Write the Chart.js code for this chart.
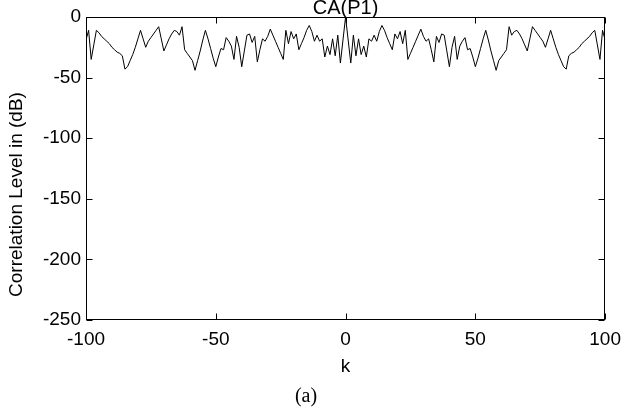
<!DOCTYPE html>
<html>
<head>
<meta charset="utf-8">
<script src="https://cdn.jsdelivr.net/npm/chart.js@4.4.1/dist/chart.umd.min.js"></script>
<style>
  body { margin: 0; background: #fff; }
  #wrap { width: 629px; height: 410px; }
</style>
</head>
<body>
<div id="wrap"><canvas id="grafCA" width="629" height="410"></canvas></div>
<script>
// CA(P1) - correlation level vs lag k

// lag axis, k = -100 ... 100
const lags = Array.from({ length: 201 }, (_, i) => i - 100);

// levels (dB), left half then peak then right half
const levelsLeft = [
  -19, -11, -35, -23, -11, -13, -16, -18, -20, -22,
  -25, -27, -29, -30, -32, -43, -41, -36, -31, -25,
  -18, -11, -18, -25, -20, -17, -14, -11, -8, -18,
  -28, -23, -18, -14, -11, -12, -15, -8, -27, -30,
  -33, -36, -44, -36, -28, -19, -11, -18, -26, -34,
  -41, -33, -26, -27, -17, -20, -24, -35, -16, -25,
  -41, -28, -15, -14, -21, -16, -37, -27, -18, -20,
  -16, -10, -15, -20, -25, -30, -35, -11, -22, -12,
  -18, -14, -27, -22, -17, -11, -7, -12, -20, -15,
  -20, -18, -33, -24, -31, -18, -32, -15, -38, -19
];
const levelPeak = [0];
const levelsRight = [
  -19, -38, -15, -32, -18, -31, -24, -33, -18, -20,
  -15, -20, -12, -7, -11, -17, -22, -27, -14, -18,
  -12, -22, -11, -35, -30, -25, -20, -15, -10, -16,
  -20, -18, -27, -37, -16, -21, -14, -15, -28, -41,
  -25, -16, -35, -24, -20, -17, -27, -26, -33, -41,
  -34, -26, -18, -11, -19, -28, -36, -44, -36, -33,
  -30, -27, -8, -15, -12, -11, -14, -18, -23, -28,
  -18, -8, -11, -14, -17, -20, -25, -18, -11, -18,
  -25, -31, -36, -41, -43, -32, -30, -29, -27, -25,
  -22, -20, -18, -16, -13, -11, -23, -35, -11, -19
];
const levels = levelsLeft.concat(levelPeak, levelsRight);

const xTicks = [-100, -50, 0, 50, 100];
const yTicks = [0, -50, -100, -150, -200, -250];

const tituloTexto = 'CA(P1)';
const ejeYTexto = 'Correlation Level in (dB)';

const fontSans = "'Liberation Sans', Arial, sans-serif";
const fontSerif = "'Liberation Serif', 'Times New Roman', serif";

// box round the axes + inward ticks, matlab style; title and ylabel drawn here too
const cajaEjes = {
  id: 'cajaEjes',
  afterDraw(chart) {
    const { ctx, chartArea: a, scales: { x, y } } = chart;
    const L = Math.round(a.left) + 0.5, R = Math.round(a.right) - 0.5;
    const T = Math.round(a.top) + 0.5, B = Math.round(a.bottom) - 0.5;
    const len = 6;
    ctx.save();
    ctx.strokeStyle = '#000';
    ctx.lineWidth = 1;
    ctx.strokeRect(L, T, R - L, B - T);
    ctx.beginPath();
    xTicks.forEach(v => {
      const px = Math.round(x.getPixelForValue(v)) + 0.5;
      ctx.moveTo(px, B); ctx.lineTo(px, B - len);
      ctx.moveTo(px, T); ctx.lineTo(px, T + len);
    });
    yTicks.forEach(v => {
      const py = Math.round(y.getPixelForValue(v)) + 0.5;
      ctx.moveTo(L, py); ctx.lineTo(L + len, py);
      ctx.moveTo(R, py); ctx.lineTo(R - len, py);
    });
    ctx.stroke();

    // title, centred over the axes
    ctx.fillStyle = '#000';
    ctx.textAlign = 'center';
    ctx.textBaseline = 'middle';
    ctx.font = '20px ' + fontSans;
    ctx.fillText(tituloTexto, (a.left + a.right) / 2, 8.5);

    // y label
    ctx.font = '19px ' + fontSans;
    ctx.translate(17, (a.top + a.bottom) / 2 + 26);
    ctx.rotate(-Math.PI / 2);
    ctx.fillText(ejeYTexto, 0, 0);
    ctx.restore();
  }
};

const ctx = document.getElementById('grafCA').getContext('2d');
const chartCA = new Chart(ctx, {
  type: 'line',
  data: {
    datasets: [{
      data: lags.map((k, i) => ({ x: k, y: levels[i] })),
      borderColor: '#000',
      borderWidth: 1,
      pointRadius: 0,
      tension: 0,
      fill: false
    }]
  },
  options: {
    responsive: false,
    animation: false,
    layout: { padding: { left: 0, right: 17, top: 17, bottom: 0 } },
    plugins: {
      legend: { display: false },
      tooltip: { enabled: false },
      title: { display: false },
      subtitle: {
        display: true,
        position: 'bottom',
        text: '(a)',
        color: '#000',
        font: { family: fontSerif, size: 20, weight: 'normal' },
        padding: { top: 2, bottom: 1 }
      }
    },
    scales: {
      x: {
        type: 'linear',
        min: -100,
        max: 100,
        afterBuildTicks: s => { s.ticks = xTicks.map(v => ({ value: v })); },
        afterFit: s => { s.height = 63; },
        grid: { display: false, drawTicks: false },
        border: { display: false },
        ticks: { color: '#000', padding: 8, maxRotation: 0, font: { family: fontSans, size: 19 } },
        title: {
          display: true,
          text: 'k',
          color: '#000',
          font: { family: fontSans, size: 19 },
          padding: { top: 0, bottom: 5 }
        }
      },
      y: {
        min: -250,
        max: 0,
        afterBuildTicks: s => { s.ticks = yTicks.map(v => ({ value: v })); },
        afterFit: s => { s.width = 86; },
        grid: { display: false, drawTicks: false },
        border: { display: false },
        ticks: { color: '#000', padding: 5, font: { family: fontSans, size: 19 } },
        title: { display: false }
      }
    }
  },
  plugins: [cajaEjes]
});
</script>
</body>
</html>
